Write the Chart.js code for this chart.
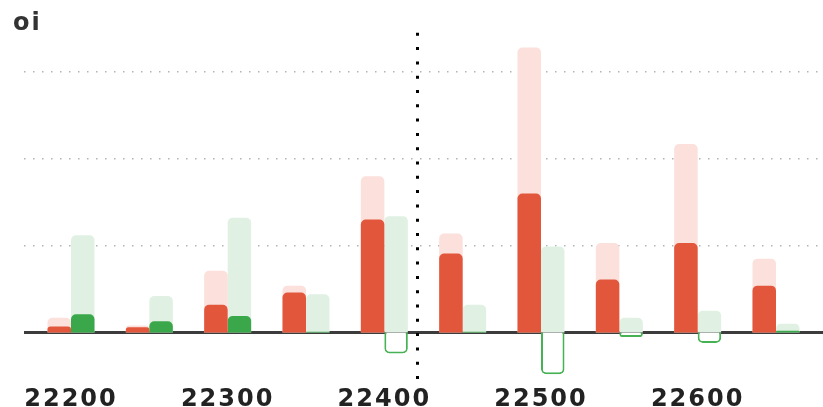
<!DOCTYPE html>
<html>
<head>
<meta charset="utf-8">
<script src="https://cdn.jsdelivr.net/npm/chart.js@4"></script>
<style>
  html, body { margin: 0; padding: 0; background: #fff; }
  #wrap { width: 823px; height: 407px; }
</style>
</head>
<body>
<div id="wrap"><canvas id="oiChart"></canvas></div>
<script>
// strikes and open interest (lakhs)
const strikes = [22200, 22250, 22300, 22350, 22400, 22450, 22500, 22550, 22600, 22650];
const callOi = [0.17, 0.08, 0.71, 0.54, 1.80, 1.14, 3.28, 1.03, 2.17, 0.85];
const callOiChange = [0.07, 0.06, 0.32, 0.46, 1.30, 0.91, 1.60, 0.61, 1.03, 0.54];
const putOi = [1.12, 0.42, 1.32, 0.44, 1.34, 0.32, 0.99, 0.17, 0.25, 0.10];
const putOiChange = [0.21, 0.13, 0.19, 0.01, -0.24, 0.01, -0.48, -0.05, -0.12, 0.02];
const xTickLabels = [22200, 22300, 22400, 22500, 22600];
const yGridValues = [1, 2, 3];
const spotPrice = 22421;

const RED = '#e2573b';
const RED_LIGHT = '#fbe0dc';
const GREEN = '#3aa74a';
const GREEN_LIGHT = '#e0f1e3';

function toPoints(values) {
    return strikes.map((s, i) => ({ x: s, y: values[i] }));
}

// wide lettering like the original font
const wideText = {
    id: 'wideText',
    beforeLayout(chart) { chart.ctx.letterSpacing = '2px'; },
    beforeDraw(chart) { chart.ctx.letterSpacing = '2px'; }
};

// zero line under the bars, spot marker on top
const markers = {
    id: 'markers',
    beforeDatasetsDraw(chart) {
        const { ctx, chartArea, scales } = chart;
        const y0 = scales.y.getPixelForValue(0);
        ctx.save();
        ctx.strokeStyle = '#3c3c3c';
        ctx.lineWidth = 3;
        ctx.beginPath();
        ctx.moveTo(chartArea.left, y0);
        ctx.lineTo(chartArea.right, y0);
        ctx.stroke();
        ctx.restore();
    },
    afterDatasetsDraw(chart) {
        const { ctx, chartArea, scales } = chart;
        const x = Math.round(scales.x.getPixelForValue(spotPrice)) + 0.5;
        ctx.save();
        ctx.strokeStyle = '#000';
        ctx.lineWidth = 3;
        ctx.setLineDash([3, 11.3]);
        ctx.beginPath();
        ctx.moveTo(x, chartArea.top);
        ctx.lineTo(x, chartArea.bottom + 4);
        ctx.stroke();
        ctx.restore();
    }
};

new Chart(document.getElementById('oiChart'), {
    type: 'bar',
    data: {
        datasets: [
            { label: 'Call OI change', data: toPoints(callOiChange), stack: 'call', order: 1,
              backgroundColor: RED, borderRadius: 5, borderWidth: 0 },
            { label: 'Call OI', data: toPoints(callOi), stack: 'call', order: 2,
              backgroundColor: RED_LIGHT, borderRadius: 5, borderWidth: 0 },
            { label: 'Put OI change', data: toPoints(putOiChange), stack: 'put', order: 1,
              backgroundColor: c => (c.raw && c.raw.y < 0) ? '#ffffff' : GREEN,
              borderColor: '#46b254',
              borderWidth: c => (c.raw && c.raw.y < 0) ? 2 : 0,
              borderRadius: 5 },
            { label: 'Put OI', data: toPoints(putOi), stack: 'put', order: 2,
              backgroundColor: GREEN_LIGHT, borderRadius: 5, borderWidth: 0 }
        ]
    },
    options: {
        responsive: true,
        maintainAspectRatio: false,
        animation: false,
        categoryPercentage: 0.6,
        barPercentage: 1.0,
        layout: { padding: { left: 13, right: 0, top: 0, bottom: -9 } },
        plugins: {
            legend: { display: false },
            tooltip: { enabled: false },
            title: {
                display: true,
                text: 'oi',
                align: 'start',
                color: '#333',
                font: { family: 'DejaVu Sans', size: 24, weight: 'bold' },
                padding: { top: 9, bottom: -5 }
            }
        },
        scales: {
            x: {
                type: 'linear',
                min: 22170,
                max: 22680,
                offset: false,
                grid: { display: false },
                border: { display: false },
                afterBuildTicks: axis => { axis.ticks = xTickLabels.map(v => ({ value: v })); },
                ticks: {
                    autoSkip: false,
                    maxRotation: 0,
                    padding: 4,
                    color: '#222',
                    font: { family: 'DejaVu Sans', size: 24, weight: 'bold', lineHeight: 1 },
                    callback: v => String(v)
                }
            },
            y: {
                stacked: false,
                min: -0.5,
                max: 3.45,
                afterFit: axis => { axis.width = 11; },
                afterBuildTicks: axis => { axis.ticks = yGridValues.map(v => ({ value: v })); },
                ticks: { display: false },
                border: { display: false, dash: [1.5, 7.5] },
                grid: { color: '#b3b3b3', lineWidth: 1.5, drawTicks: false }
            }
        }
    },
    plugins: [wideText, markers]
});
</script>
</body>
</html>
